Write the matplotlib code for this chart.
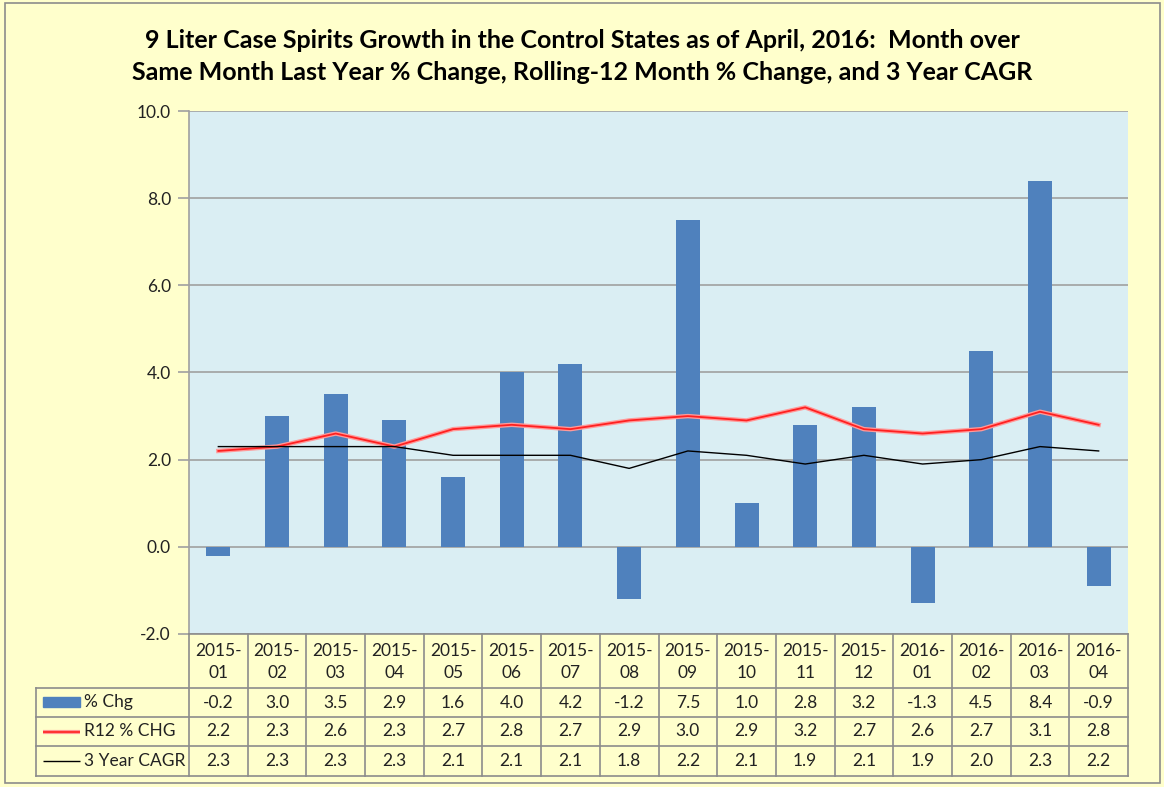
import matplotlib.pyplot as plt
import matplotlib.patches as mpatches
import numpy as np

plt.rcParams['font.family'] = ['Lato', 'DejaVu Sans']

months = ["2015-\n01", "2015-\n02", "2015-\n03", "2015-\n04", "2015-\n05", "2015-\n06", "2015-\n07", "2015-\n08",
          "2015-\n09", "2015-\n10", "2015-\n11", "2015-\n12", "2016-\n01", "2016-\n02", "2016-\n03", "2016-\n04"]
pct_chg = [-0.2, 3.0, 3.5, 2.9, 1.6, 4.0, 4.2, -1.2, 7.5, 1.0, 2.8, 3.2, -1.3, 4.5, 8.4, -0.9]
r12_chg = [2.2, 2.3, 2.6, 2.3, 2.7, 2.8, 2.7, 2.9, 3.0, 2.9, 3.2, 2.7, 2.6, 2.7, 3.1, 2.8]
cagr_3y = [2.3, 2.3, 2.3, 2.3, 2.1, 2.1, 2.1, 1.8, 2.2, 2.1, 1.9, 2.1, 1.9, 2.0, 2.3, 2.2]
series_names = ["% Chg", "R12 % CHG", "3 Year CAGR"]
yticks = [-2.0, 0.0, 2.0, 4.0, 6.0, 8.0, 10.0]

W, H = 1164, 787
bg = '#FFFFCC'
plot_bg = '#DAEEF3'
bar_c = '#4F81BD'
grid_c = '#A0A0A0'

fig = plt.figure(figsize=(W / 100, H / 100), dpi=100)
fig.patch.set_facecolor(bg)
fig.patches.append(mpatches.Rectangle((5 / W, 4 / H), 1155 / W, 780 / H, transform=fig.transFigure,
                                      fill=False, edgecolor='#8C8C8C', lw=1.2))

def px(x0, y0, x1, y1):
    return [x0 / W, 1 - y1 / H, (x1 - x0) / W, (y1 - y0) / H]

x = np.arange(len(pct_chg))

ax = fig.add_axes(px(189, 111, 1128, 634))
ax.set_facecolor(plot_bg)
ax.bar(x, pct_chg, width=0.41, color=bar_c, zorder=3)
ax.plot(x, r12_chg, color='#FF9999', lw=3.2, zorder=4)
ax.plot(x, r12_chg, color='#FF2020', lw=1.3, zorder=5)
ax.plot(x, cagr_3y, color='black', lw=1.0, zorder=6)
ax.set_xlim(-0.5, len(x) - 0.5)
ax.set_ylim(-2, 10)
ax.set_yticks(yticks)
ax.set_yticklabels(["%.1f" % v for v in yticks], fontsize=12.5, color='#222222')
ax.set_xticks([])
ax.yaxis.grid(True, color=grid_c, lw=1.2, zorder=1)
for s in ['top', 'right', 'bottom']:
    ax.spines[s].set_visible(False)
ax.spines['left'].set_color(grid_c)
ax.spines['left'].set_linewidth(1.2)
ax.tick_params(axis='y', length=8, width=1.2, color=grid_c, pad=5)

fig.text(0.5, 1 - 40 / H, "9 Liter Case Spirits Growth in the Control States as of April, 2016:  Month over",
         ha='center', va='center', fontsize=18, fontweight='bold')
fig.text(0.5, 1 - 73 / H, "Same Month Last Year % Change, Rolling-12 Month % Change, and 3 Year CAGR",
         ha='center', va='center', fontsize=18, fontweight='bold')

# data table under the plot
col_w = (1128 - 189) / len(x)
left_x = -0.5 - (189 - 36) / col_w
tab = fig.add_axes(px(36, 634, 1128, 776))
tab.set_xlim(left_x, len(x) - 0.5)
tab.set_ylim(142, 0)
tab.axis('off')
tab.patch.set_alpha(0)
row_edges = [0, 54, 83, 112, 142]
lc = '#8C8C8C'
for i in range(len(x) + 1):
    tab.plot([i - 0.5, i - 0.5], [0, 142], color=lc, lw=1.2, clip_on=False)
tab.plot([left_x, left_x], [54, 142], color=lc, lw=1.2, clip_on=False)
tab.plot([-0.5, len(x) - 0.5], [0, 0], color=lc, lw=1.2, clip_on=False)
for e in row_edges[1:]:
    tab.plot([left_x, len(x) - 0.5], [e, e], color=lc, lw=1.2, clip_on=False)

fs = 12.5
for i, m in enumerate(months):
    tab.text(i, 28, m, ha='center', va='center', fontsize=fs, color='#222222', linespacing=1.4)
for r, vals in enumerate([pct_chg, r12_chg, cagr_3y]):
    yc = (row_edges[r + 1] + row_edges[r + 2]) / 2
    for i, v in enumerate(vals):
        tab.text(i, yc, "%.1f" % v, ha='center', va='center', fontsize=fs, color='#222222')
    tab.text(left_x + 48 / col_w, yc, series_names[r], ha='left', va='center', fontsize=fs, color='#222222')

sx0, sx1 = left_x + 7 / col_w, left_x + 44 / col_w
tab.add_patch(mpatches.Rectangle((sx0, 63), sx1 - sx0, 10, color=bar_c))
tab.plot([sx0, sx1], [98, 98], color='#FF9999', lw=3, solid_capstyle='butt')
tab.plot([sx0, sx1], [98, 98], color='#FF2020', lw=1.2, solid_capstyle='butt')
tab.plot([sx0, sx1], [127, 127], color='black', lw=1.0, solid_capstyle='butt')

fig.savefig("out.png", dpi=100, facecolor=bg)
